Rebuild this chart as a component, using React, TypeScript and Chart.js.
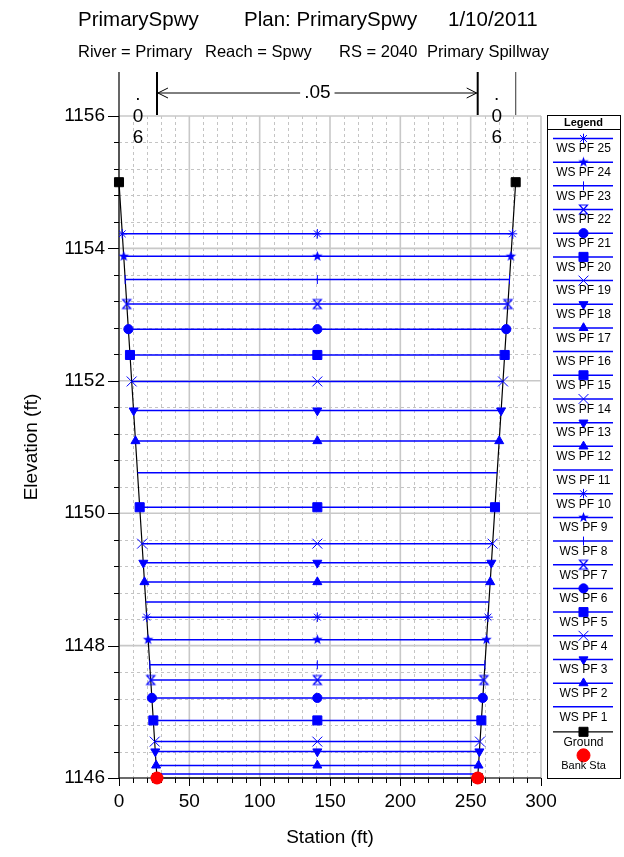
import React, { useEffect, useRef } from 'react';
import { Chart, registerables } from 'chart.js';
import { drawPoint } from 'chart.js/helpers';

Chart.register(...registerables);

const FONT = '"Liberation Sans", Arial, Helvetica, sans-serif';
const WS_COLOR = '#0000ff';

// ---- Titles ----
const titleParts = ['PrimarySpwy', 'Plan: PrimarySpwy', '1/10/2011'];
const subtitleParts = ['River = Primary', 'Reach = Spwy', 'RS = 2040', 'Primary Spillway'];

// ---- Water surface profiles (PF 1 .. PF 25) ----
const profileNames = [
  'WS PF 1', 'WS PF 2', 'WS PF 3', 'WS PF 4', 'WS PF 5', 'WS PF 6', 'WS PF 7', 'WS PF 8', 'WS PF 9', 'WS PF 10',
  'WS PF 11', 'WS PF 12', 'WS PF 13', 'WS PF 14', 'WS PF 15', 'WS PF 16', 'WS PF 17', 'WS PF 18', 'WS PF 19', 'WS PF 20',
  'WS PF 21', 'WS PF 22', 'WS PF 23', 'WS PF 24', 'WS PF 25',
];
const wsElevation = [
  1146.06, 1146.19, 1146.40, 1146.55, 1146.87, 1147.21, 1147.48, 1147.71, 1148.09, 1148.43,
  1148.66, 1148.96, 1149.25, 1149.54, 1150.09, 1150.61, 1151.09, 1151.55, 1151.99, 1152.39,
  1152.78, 1153.16, 1153.53, 1153.88, 1154.22,
];
const wsLeftStation = [
  26.8, 26.4, 25.8, 25.4, 24.4, 23.4, 22.6, 21.9, 20.7, 19.7,
  19.0, 18.1, 17.3, 16.4, 14.7, 13.2, 11.7, 10.4, 9.0, 7.8,
  6.7, 5.5, 4.4, 3.4, 2.3,
];
const wsRightStation = [
  255.2, 255.6, 256.2, 256.6, 257.6, 258.6, 259.4, 260.1, 261.3, 262.3,
  263.0, 263.9, 264.7, 265.6, 267.3, 268.8, 270.3, 271.6, 273.0, 274.2,
  275.3, 276.5, 277.6, 278.6, 279.7,
];
const wsMidStation = [
  141, 141, 141, 141, 141, 141, 141, 141, 141, 141,
  141, 141, 141, 141, 141, 141, 141, 141, 141, 141,
  141, 141, 141, 141, 141,
];
const profileMarkers = [
  'none', 'triangle', 'triangleDown', 'crossRot', 'rect', 'circle', 'hourglass', 'tick', 'star5', 'asterisk',
  'none', 'triangle', 'triangleDown', 'crossRot', 'rect', 'none', 'triangle', 'triangleDown', 'crossRot', 'rect',
  'circle', 'hourglass', 'tick', 'star5', 'asterisk',
];

// ---- Ground and bank stations ----
const groundStation = [0, 27, 255, 282];
const groundElevation = [1155, 1146, 1146, 1155];
const bankStation = [27, 255];
const bankElevation = [1146, 1146];

// ---- Manning's n annotation ----
const nBreakStations = [0, 27, 255, 282];
const nValues = ['.06', '.05', '.06'];

// ---- Axis ticks ----
const xTickValues = [0, 50, 100, 150, 200, 250, 300];
const yTickValues = [1146, 1148, 1150, 1152, 1154, 1156];
const X_MIN = 0, X_MAX = 300, X_MINOR = 10;
const Y_MIN = 1146, Y_MAX = 1156, Y_MINOR = 0.4;

function makeCanvas(size: number, draw: (c: CanvasRenderingContext2D, h: number) => void) {
  const cv = document.createElement('canvas');
  cv.width = size;
  cv.height = size;
  const c = cv.getContext('2d')!;
  draw(c, size / 2);
  return cv;
}

function markerSpec(key: string, color: string): { pointStyle: any; radius: number; rotation: number } {
  switch (key) {
    case 'triangle': return { pointStyle: 'triangle', radius: 5.2, rotation: 0 };
    case 'triangleDown': return { pointStyle: 'triangle', radius: 5.2, rotation: 180 };
    case 'crossRot': return { pointStyle: 'crossRot', radius: 7, rotation: 0 };
    case 'rect': return { pointStyle: 'rect', radius: 6.4, rotation: 0 };
    case 'circle': return { pointStyle: 'circle', radius: 4.6, rotation: 0 };
    case 'tick': return { pointStyle: 'line', radius: 4.5, rotation: 90 };
    case 'asterisk': return { pointStyle: 'star', radius: 4.8, rotation: 0 };
    case 'star5': {
      const img = makeCanvas(13, (c, h) => {
        c.fillStyle = color;
        c.beginPath();
        for (let k = 0; k < 10; k++) {
          const r = k % 2 === 0 ? 5.5 : 2.3;
          const a = -Math.PI / 2 + (k * Math.PI) / 5;
          const px = h + r * Math.cos(a);
          const py = h + r * Math.sin(a);
          if (k === 0) c.moveTo(px, py); else c.lineTo(px, py);
        }
        c.closePath();
        c.fill();
      });
      return { pointStyle: img, radius: 5, rotation: 0 };
    }
    case 'hourglass': {
      const img = makeCanvas(13, (c, h) => {
        c.strokeStyle = color;
        c.lineWidth = 1.2;
        c.beginPath();
        c.moveTo(h - 4, h - 4.5);
        c.lineTo(h + 4, h - 4.5);
        c.lineTo(h - 4, h + 4.5);
        c.lineTo(h + 4, h + 4.5);
        c.closePath();
        c.stroke();
      });
      return { pointStyle: img, radius: 5, rotation: 0 };
    }
    default: return { pointStyle: 'circle', radius: 0, rotation: 0 };
  }
}

function hline(ctx: CanvasRenderingContext2D, x1: number, x2: number, y: number) {
  ctx.beginPath(); ctx.moveTo(x1, y); ctx.lineTo(x2, y); ctx.stroke();
}
function vline(ctx: CanvasRenderingContext2D, x: number, y1: number, y2: number) {
  ctx.beginPath(); ctx.moveTo(x, y1); ctx.lineTo(x, y2); ctx.stroke();
}

const isMajor = (v: number, step: number) => Math.abs(v / step - Math.round(v / step)) < 1e-6;

const gridPlugin = {
  id: 'hecGrid',
  beforeDraw(chart: any) {
    const { ctx, chartArea: a, scales } = chart;
    const x = scales.x, y = scales.y;
    ctx.save();
    ctx.fillStyle = '#ffffff';
    ctx.fillRect(0, 0, chart.width, chart.height);
    // minor dashed grid
    ctx.strokeStyle = '#c4c4c4';
    ctx.lineWidth = 1;
    ctx.setLineDash([3, 3]);
    for (let v = X_MIN; v <= X_MAX + 1e-6; v += X_MINOR) {
      if (isMajor(v, 50)) continue;
      const px = Math.round(x.getPixelForValue(v)) + 0.5;
      vline(ctx, px, a.top, a.bottom);
    }
    for (let k = 0; k <= Math.round((Y_MAX - Y_MIN) / Y_MINOR); k++) {
      const v = Y_MIN + k * Y_MINOR;
      if (isMajor(v - Y_MIN, 2)) continue;
      const py = Math.round(y.getPixelForValue(v)) + 0.5;
      hline(ctx, a.left, a.right, py);
    }
    // major solid grid
    ctx.setLineDash([]);
    ctx.strokeStyle = '#c8c8c8';
    ctx.lineWidth = 1.6;
    for (const v of xTickValues) {
      const px = x.getPixelForValue(v);
      vline(ctx, px, a.top, a.bottom);
    }
    for (const v of yTickValues) {
      const py = y.getPixelForValue(v);
      hline(ctx, a.left, a.right, py);
    }
    ctx.restore();
  },
  beforeDatasetsDraw(chart: any) {
    const { ctx, chartArea: a, scales } = chart;
    const x = scales.x, y = scales.y;
    ctx.save();
    ctx.strokeStyle = '#000';
    ctx.lineWidth = 1;
    // tick marks
    for (let v = X_MIN; v <= X_MAX + 1e-6; v += X_MINOR) {
      const px = Math.round(x.getPixelForValue(v)) + 0.5;
      vline(ctx, px, a.bottom, a.bottom + (isMajor(v, 50) ? 8 : 5));
    }
    for (let k = 0; k <= Math.round((Y_MAX - Y_MIN) / Y_MINOR); k++) {
      const v = Y_MIN + k * Y_MINOR;
      const py = Math.round(y.getPixelForValue(v)) + 0.5;
      hline(ctx, a.left - (isMajor(v - Y_MIN, 2) ? 11 : 5), a.left, py);
    }
    // axis lines
    ctx.lineWidth = 1.2;
    hline(ctx, a.left, a.right, a.bottom);
    vline(ctx, a.left, 72, a.bottom);
    ctx.restore();
  },
  afterDraw(chart: any) {
    const { ctx, chartArea: a, scales } = chart;
    const x = scales.x;
    ctx.save();
    ctx.fillStyle = '#000';
    ctx.textBaseline = 'middle';
    // titles
    ctx.font = `20.5px ${FONT}`;
    ctx.textAlign = 'left';
    const titleX = [78, 244, 448];
    titleParts.forEach((t, i) => ctx.fillText(t, titleX[i], 20.5));
    ctx.font = `16.5px ${FONT}`;
    const subX = [78, 205, 339, 427];
    subtitleParts.forEach((t, i) => ctx.fillText(t, subX[i], 52.5));

    // Manning's n annotation
    const topY = 72;
    const arrowY = 93;
    ctx.strokeStyle = '#000';
    for (let i = 1; i < nBreakStations.length; i++) {
      const px = x.getPixelForValue(nBreakStations[i]);
      ctx.lineWidth = i === nBreakStations.length - 1 ? 1.2 : 2;
      ctx.strokeStyle = i === nBreakStations.length - 1 ? '#555' : '#000';
      vline(ctx, px, topY, a.top - 1);
    }
    ctx.strokeStyle = '#000';
    ctx.font = `19px ${FONT}`;
    ctx.textAlign = 'center';
    for (let i = 0; i < nValues.length; i++) {
      const xl = x.getPixelForValue(nBreakStations[i]);
      const xr = x.getPixelForValue(nBreakStations[i + 1]);
      const cx = (xl + xr) / 2;
      const txt = nValues[i];
      const w = ctx.measureText(txt).width;
      if (w + 30 < xr - xl) {
        ctx.fillText(txt, cx, arrowY);
        ctx.lineWidth = 1;
        hline(ctx, xl + 1, cx - w / 2 - 4, arrowY);
        hline(ctx, cx + w / 2 + 4, xr - 1, arrowY);
        ctx.beginPath();
        ctx.moveTo(xl + 11, arrowY - 5); ctx.lineTo(xl + 1, arrowY); ctx.lineTo(xl + 11, arrowY + 5);
        ctx.moveTo(xr - 11, arrowY - 5); ctx.lineTo(xr - 1, arrowY); ctx.lineTo(xr - 11, arrowY + 5);
        ctx.stroke();
      } else {
        const chars = txt.split('');
        chars.forEach((ch, k) => ctx.fillText(ch, cx, 95 + k * 21.5));
      }
    }

    // Legend
    const L = a.right + 6, R = 620, T = 115, B = 778;
    ctx.lineWidth = 1;
    ctx.strokeStyle = '#000';
    ctx.strokeRect(L + 0.5, T + 0.5, R - L, B - T);
    hline(ctx, L, R, 129.5);
    ctx.font = `bold 11px ${FONT}`;
    const cx = (L + R) / 2;
    ctx.fillText('Legend', cx, 122.5);
    const datasets = chart.data.datasets;
    const wsSets = datasets.filter((d: any) => d.kind === 'ws').slice().sort((p: any, q: any) => q.order2 - p.order2);
    const step = 23.68;
    let ly = 138.5;
    ctx.font = `12px ${FONT}`;
    const drawEntry = (d: any, lineY: number, textY: number, withLine: boolean) => {
      if (withLine) {
        ctx.strokeStyle = d.borderColor;
        ctx.lineWidth = d.borderWidth;
        hline(ctx, L + 6, R - 7, lineY);
      }
      ctx.fillStyle = d.backgroundColor;
      ctx.strokeStyle = d.borderColor;
      ctx.lineWidth = 1;
      drawPoint(ctx, { pointStyle: d.pointStyle, rotation: d.pointRotation, radius: d.legendRadius ?? d.pointRadius, borderWidth: 1 } as any, cx, lineY);
      ctx.fillStyle = '#000';
      ctx.fillText(d.label, cx, textY);
    };
    wsSets.forEach((d: any, k: number) => {
      const yy = ly + k * step;
      drawEntry(d, yy, yy + 10.5, true);
    });
    const ground = datasets.find((d: any) => d.kind === 'ground');
    const bank = datasets.find((d: any) => d.kind === 'bank');
    const gy = ly + (wsSets.length - 1) * step + 25;
    drawEntry(ground, gy, gy + 10.5, true);
    ctx.font = `11px ${FONT}`;
    drawEntry(bank, gy + 23.5, gy + 34, false);
    ctx.restore();
  },
};

export default function App() {
  const ref = useRef<HTMLCanvasElement>(null);
  useEffect(() => {
    const canvas = ref.current!;
    const wsDatasets = profileNames.map((name, i) => {
      const m = markerSpec(profileMarkers[i], WS_COLOR);
      return {
        kind: 'ws',
        order2: i,
        label: name,
        data: [
          { x: wsLeftStation[i], y: wsElevation[i] },
          { x: wsMidStation[i], y: wsElevation[i] },
          { x: wsRightStation[i], y: wsElevation[i] },
        ],
        showLine: true,
        borderColor: WS_COLOR,
        backgroundColor: WS_COLOR,
        borderWidth: 1.5,
        pointStyle: m.pointStyle,
        pointRadius: m.radius,
        pointHoverRadius: m.radius,
        pointRotation: m.rotation,
        pointBorderWidth: 1,
      };
    });
    const bankDataset = {
      kind: 'bank',
      label: 'Bank Sta',
      data: bankStation.map((s, i) => ({ x: s, y: bankElevation[i] })),
      showLine: false,
      borderColor: '#ff0000',
      backgroundColor: '#ff0000',
      borderWidth: 0,
      pointStyle: 'circle',
      pointRadius: 6.5,
      legendRadius: 6.5,
      pointHoverRadius: 6.5,
      pointBorderWidth: 0,
      clip: false,
    };
    const groundDataset = {
      kind: 'ground',
      label: 'Ground',
      data: groundStation.map((s, i) => ({ x: s, y: groundElevation[i] })),
      showLine: true,
      borderColor: '#000000',
      backgroundColor: '#000000',
      borderWidth: 1.2,
      pointStyle: 'rect',
      pointRadius: 6.4,
      pointHoverRadius: 6.4,
      pointBorderWidth: 1,
      clip: false,
    };
    Chart.defaults.color = '#000';
    const chart = new Chart(canvas, {
      type: 'scatter',
      data: { datasets: [bankDataset, ...wsDatasets.slice().reverse(), groundDataset] as any },
      options: {
        animation: false,
        responsive: false,
        maintainAspectRatio: false,
        events: [],
        layout: { padding: { left: 0, top: 116, right: 83, bottom: 0 } },
        plugins: { legend: { display: false }, tooltip: { enabled: false } },
        scales: {
          x: {
            type: 'linear',
            min: X_MIN,
            max: X_MAX,
            grid: { display: false },
            border: { display: false },
            afterBuildTicks: (s: any) => { s.ticks = xTickValues.map((v) => ({ value: v })); },
            afterFit: (s: any) => { s.height = 79; },
            ticks: {
              padding: 4,
              maxRotation: 0,
              autoSkip: false,
              font: { family: FONT, size: 19 },
              color: '#000',
              callback: (v: any) => String(v),
            },
            title: {
              display: true,
              text: 'Station (ft)',
              font: { family: FONT, size: 19 },
              color: '#000',
              padding: { top: 0, bottom: 8 },
            },
          },
          y: {
            type: 'linear',
            min: Y_MIN,
            max: Y_MAX,
            grid: { display: false },
            border: { display: false },
            afterBuildTicks: (s: any) => { s.ticks = yTickValues.map((v) => ({ value: v })); },
            afterFit: (s: any) => { s.width = 119; },
            ticks: {
              padding: 6,
              autoSkip: false,
              font: { family: FONT, size: 19 },
              color: '#000',
              callback: (v: any) => String(v),
            },
            title: {
              display: true,
              text: 'Elevation (ft)',
              font: { family: FONT, size: 19 },
              color: '#000',
              padding: { top: 20, bottom: 0 },
            },
          },
        },
      },
      plugins: [gridPlugin],
    } as any);
    return () => chart.destroy();
  }, []);
  return (
    <div style={{ position: 'absolute', left: 0, top: 0, width: 624, height: 857, background: '#fff' }}>
      <canvas ref={ref} width={624} height={857} style={{ display: 'block', width: 624, height: 857 }} />
    </div>
  );
}
